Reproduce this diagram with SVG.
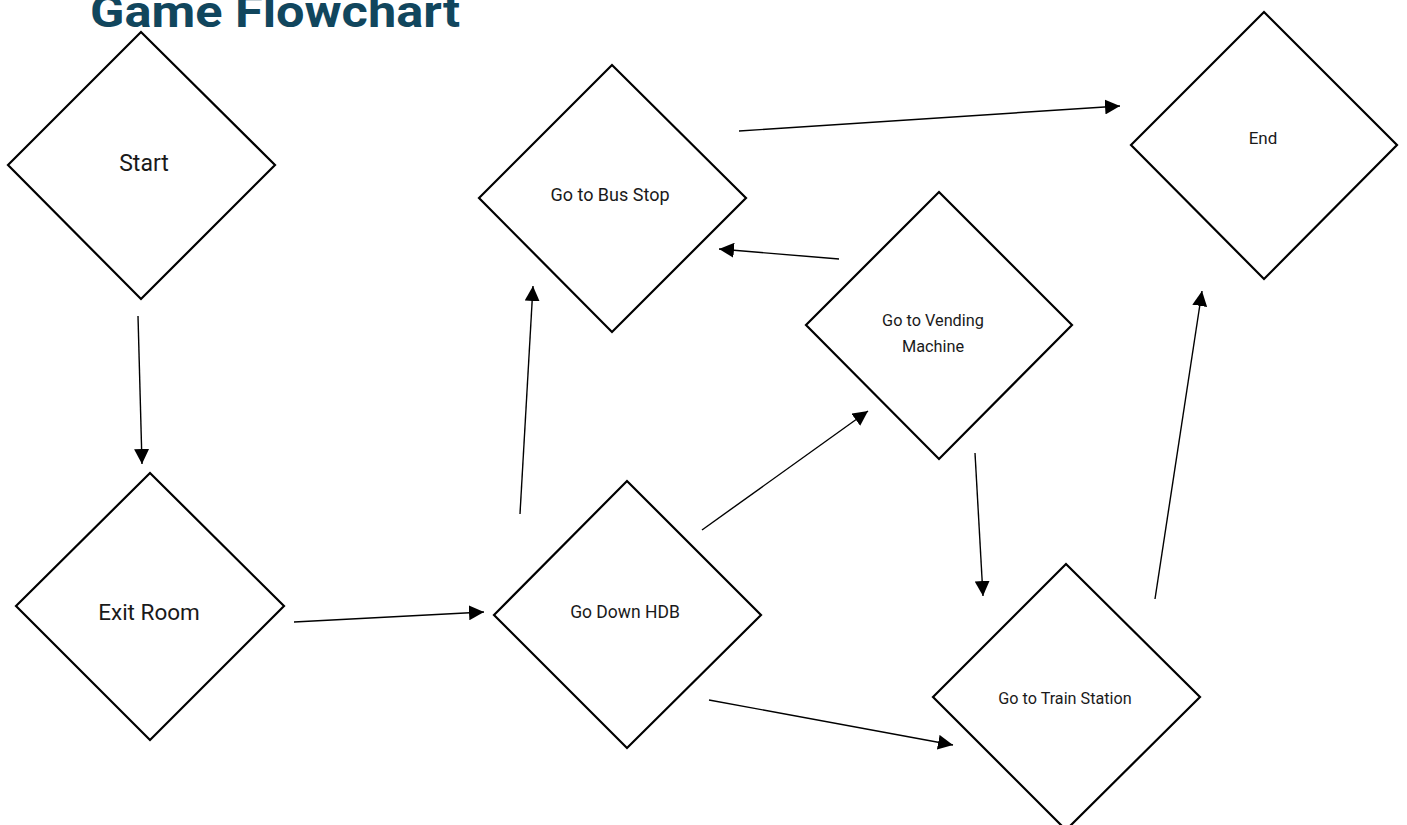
<svg xmlns="http://www.w3.org/2000/svg" width="1407" height="825" viewBox="0 0 1407 825">
<style>
.d{fill:#fff;stroke:#000;stroke-width:2.2}
.c{stroke:#000;stroke-width:1.4;fill:none;marker-end:url(#ah)}
.t{font-family:Roboto,"Liberation Sans",sans-serif;fill:#1a1a1a;text-anchor:middle;dominant-baseline:middle}
.title{font-family:Roboto,"Liberation Sans",sans-serif;font-weight:bold;fill:#11465d;font-size:44px}
</style>
<defs>
<marker id="ah" viewBox="0 0 10 10" refX="10" refY="5" markerWidth="15" markerHeight="15" markerUnits="userSpaceOnUse" orient="auto">
<path d="M0,0L10,5L0,10z" fill="#000"/>
</marker>
</defs>
<rect width="1407" height="825" fill="#fff"/>
<text class="title" x="90" y="27" textLength="370" lengthAdjust="spacingAndGlyphs">Game Flowchart</text>
<g id="start"><path class="d" d="M8,165L141,32L275,165L141,299Z"/><text class="t" x="144" y="165" font-size="23">Start</text></g>
<g id="exit-room"><path class="d" d="M16,606L150,473L284,606L150,740Z"/><text class="t" x="149" y="614" font-size="22.5">Exit Room</text></g>
<g id="bus-stop"><path class="d" d="M479,198L612,65L746,198L612,332Z"/><text class="t" x="610" y="196" font-size="18">Go to Bus Stop</text></g>
<g id="down-hdb"><path class="d" d="M494,615L627,481L761,615L627,748Z"/><text class="t" x="625" y="613" font-size="17.5">Go Down HDB</text></g>
<g id="vending"><path class="d" d="M806,325L939,192L1072,325L939,459Z"/><text class="t" x="933" y="322" font-size="16.3">Go to Vending</text><text class="t" x="933" y="348" font-size="16.3">Machine</text></g>
<g id="end"><path class="d" d="M1131,145L1264,12L1397,145L1264,279Z"/><text class="t" x="1263" y="140" font-size="17">End</text></g>
<g id="train"><path class="d" d="M933,697L1066,564L1200,697L1066,830Z"/><text class="t" x="1065" y="700" font-size="16.2">Go to Train Station</text></g>
<g id="connectors">
<line class="c" x1="138" y1="316" x2="142" y2="464"/>
<line class="c" x1="294" y1="622" x2="484" y2="612"/>
<line class="c" x1="520" y1="514" x2="533" y2="286"/>
<line class="c" x1="702" y1="530" x2="868" y2="411"/>
<line class="c" x1="709" y1="700" x2="953" y2="745"/>
<line class="c" x1="739" y1="131" x2="1120" y2="106"/>
<line class="c" x1="839" y1="259" x2="719" y2="249"/>
<line class="c" x1="975" y1="453" x2="983" y2="596"/>
<line class="c" x1="1155" y1="599" x2="1202" y2="291"/>
</g>
</svg>
